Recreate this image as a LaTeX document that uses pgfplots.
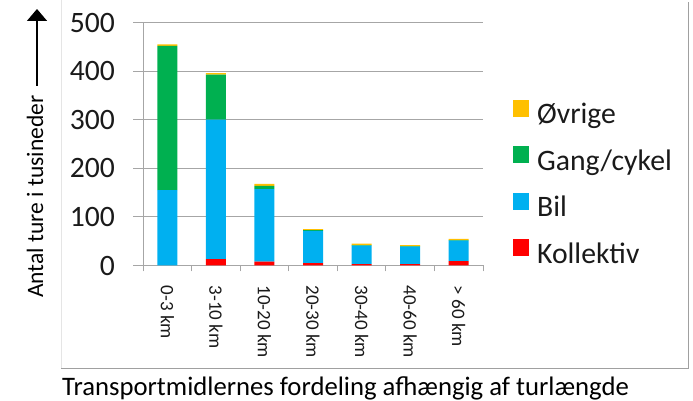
\documentclass[border=0pt]{standalone}
\usepackage{fontspec}
\setmainfont{Carlito}
\usepackage{pgfplots}
\pgfplotsset{compat=1.18}
\usetikzlibrary{arrows.meta}
\definecolor{cOv}{HTML}{FFC000}
\definecolor{cGang}{HTML}{00B050}
\definecolor{cBil}{HTML}{00B0F0}
\definecolor{cKol}{HTML}{FF0000}
\definecolor{gridc}{HTML}{A6A6A6}
\definecolor{framec}{HTML}{A0A0A0}
\definecolor{txt}{HTML}{1A1A1A}
\begin{document}
\begin{tikzpicture}
\path[use as bounding box] (0bp,0bp) rectangle (693bp,401bp);
\draw[black!10, line width=1bp] (61bp,401bp) -- (61bp,32bp);
\draw[framec, line width=1bp] (61bp,32bp) -- (688bp,32bp) -- (688bp,399bp);
\begin{axis}[
  at={(143bp,135.5bp)}, anchor=south west,
  scale only axis, width=340bp, height=243bp,
  xmin=-0.5, xmax=6.5, ymin=0, ymax=500,
  ybar stacked, bar width=20bp,
  axis x line*=bottom, axis y line*=left,
  axis line style={gridc, line width=1bp},
  ytick={0,100,...,500},
  ymajorgrids, grid style={gridc, line width=1bp},
  tick align=outside, major tick length=10bp, minor tick length=6bp,
  tick style={gridc, line width=1bp},
  xtick={0,...,6},
  xticklabels={0-3 km,3-10 km,10-20 km,20-30 km,30-40 km,40-60 km,> 60 km},
  major x tick style={draw=none},
  minor xtick={-0.5,0.5,...,6.5},
  /pgf/number format/assume math mode=true,
  yticklabel style={font=\fontsize{29.6bp}{32bp}\selectfont, text=txt, inner sep=0pt, anchor=east, xshift=-18bp},
  xticklabel style={font=\fontsize{19bp}{22bp}\selectfont, text=txt, inner sep=0pt, yshift=-10bp, rotate=-90, anchor=west},
  reverse legend,
  legend cell align=left,
  legend image code/.code={\fill[#1] (0bp,0bp) rectangle (16bp,17bp);},
  legend style={at={(1.088,0.331)}, anchor=west, draw=none, fill=none,
    inner sep=0pt, column sep=8bp, row sep=15.5bp,
    font=\fontsize{29.7bp}{32bp}\selectfont, text=txt,
    nodes={inner sep=0pt, text height=21bp, text depth=7bp}},
]
\addplot[fill=cKol, draw=none] coordinates {(0,0) (1,13) (2,8) (3,5) (4,3) (5,3) (6,9)};
\addplot[fill=cBil, draw=none] coordinates {(0,155) (1,287) (2,149) (3,66) (4,38) (5,36) (6,42)};
\addplot[fill=cGang, draw=none] coordinates {(0,297) (1,93) (2,7) (3,2) (4,1) (5,1) (6,1)};
\addplot[fill=cOv, draw=none] coordinates {(0,3) (1,3) (2,4) (3,2) (4,3) (5,2) (6,3)};
\legend{Kollektiv,Bil,Gang/cykel,Øvrige}
\end{axis}
\draw[black, line width=1.5bp, -{Triangle[width=20bp,length=12bp]}] (37bp,315bp) -- (37bp,392bp);
\node[rotate=90, anchor=base west, inner sep=0pt, font=\fontsize{23.5bp}{26bp}\selectfont, text=black] at (43bp,103bp) {Antal ture i tusineder};
\node[anchor=base west, inner sep=0pt, font=\fontsize{26.7bp}{30bp}\selectfont, text=black] at (62bp,6bp) {Transportmidlernes fordeling afhængig af turlængde};
\end{tikzpicture}
\end{document}
